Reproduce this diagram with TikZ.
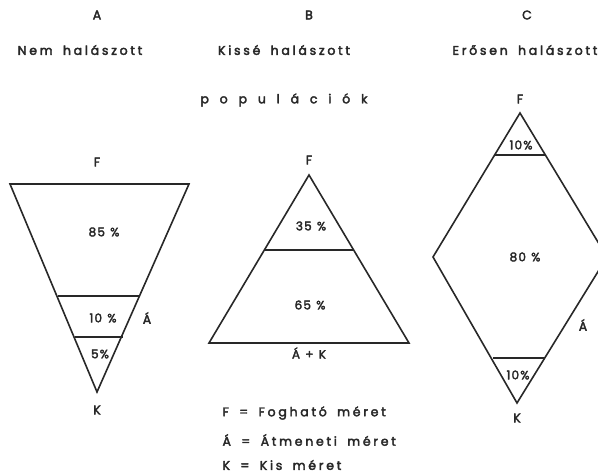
\documentclass[tikz,border=0pt]{standalone}
\usepackage{fontspec}
\setmainfont{Poppins}[LetterSpace=22,FakeBold=3,WordSpace=1.7]
\newfontfamily\spreadfont{Poppins}[LetterSpace=60,FakeBold=3]
\newfontfamily\pctfont{Poppins}[LetterSpace=10,FakeBold=3,WordSpace=1.2]
\usepackage{tikz}
\definecolor{inkgray}{RGB}{40,40,40}

\begin{document}
\begin{tikzpicture}[x=1pt,y=-1pt,
    outline/.style={line width=1.6pt,inkgray,line join=miter},
    lbl/.style={inkgray,font=\fontsize{12.5}{14}\selectfont},
    pct/.style={inkgray,font=\pctfont\fontsize{12}{14}\selectfont}]
    \useasboundingbox (0,0) rectangle (598,473);
    \clip (0,0) rectangle (598,473);

    % Column headings
    \node[lbl] (headA) at (97,15) {A};
    \node[lbl] (headB) at (309,15) {B};
    \node[lbl] (headC) at (527,15) {C};
    \node[lbl] (titleA) at (80,50) {Nem halászott};
    \node[lbl] (titleB) at (284,50) {Kissé halászott};
    \node[lbl] (titleC) at (525,50) {Erősen halászott};
    \node[lbl] (popul) at (284,100) {\spreadfont p o p u l á c i ó k};

    % A: inverted triangle
    \draw[outline] (10,184) -- (189,184) -- (97,392) -- cycle;
    \draw[outline] (58,296) -- (139,296);
    \draw[outline] (75,337) -- (123,337);
    \node[lbl] (fA) at (97,162) {F};
    \node[pct] (p85) at (104,232) {85 \%};
    \node[pct] (p10a) at (103,318) {10 \%};
    \node[lbl] (aA) at (147,318) {Á};
    \node[pct] (p5) at (100,354) {5\%};
    \node[lbl] (kA) at (97,410) {K};

    % B: triangle
    \draw[outline] (309,175) -- (409,343) -- (209,343) -- cycle;
    \draw[outline] (265,250) -- (354,250);
    \node[lbl] (fB) at (309,160) {F};
    \node[pct] (p35) at (311,226) {35 \%};
    \node[pct] (p65) at (310,305) {65 \%};
    \node[pct] (akB) at (309,353) {Á + K};

    % C: diamond
    \draw[outline] (520,113) -- (607,257) -- (517,403) -- (433,257) -- cycle;
    \draw[outline] (495,155) -- (546,155);
    \draw[outline] (493,358) -- (545,358);
    \node[lbl] (fC) at (520,99) {F};
    \node[pct] (p10t) at (521,145) {10\%};
    \node[pct] (p80) at (525,257) {80 \%};
    \node[lbl] (aC) at (583,325) {Á};
    \node[pct] (p10b) at (518,375) {10\%};
    \node[lbl] (kC) at (517,418) {K};

    % Legend
    \node[lbl,anchor=west] (legF) at (219,413) {F = Fogható méret};
    \node[lbl,anchor=west] (legA) at (219,440) {Á = Átmeneti méret};
    \node[lbl,anchor=west] (legK) at (219,465) {K = Kis méret};
\end{tikzpicture}
\end{document}
